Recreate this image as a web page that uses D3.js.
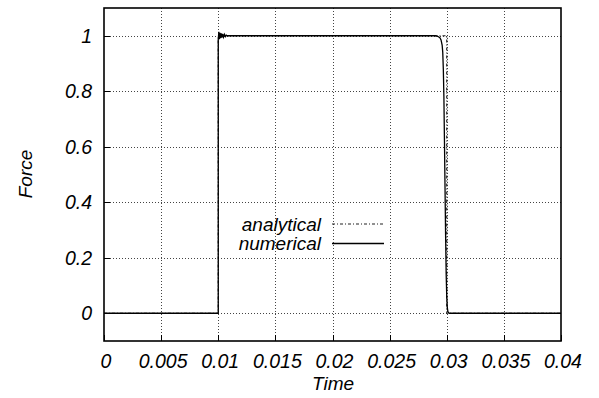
<!DOCTYPE html>
<html>
<head>
<meta charset="utf-8">
<script src="https://cdn.jsdelivr.net/npm/d3@7"></script>
<style>
  html, body { margin: 0; padding: 0; background: #fff; }
  svg { display: block; font-family: "Liberation Sans", Arial, sans-serif; font-style: italic; }
</style>
</head>
<body>
<svg id="chart" width="599" height="398"></svg>
<script>
// Tick values
const xTicks = [0, 0.005, 0.01, 0.015, 0.02, 0.025, 0.03, 0.035, 0.04];
const yTicks = [0, 0.2, 0.4, 0.6, 0.8, 1];

// Analytical force: rectangular pulse between 0.01 and 0.03
const analyticalT = [0, 0.01, 0.01, 0.03, 0.03, 0.04];
const analyticalF = [0, 0, 1, 1, 0, 0];

// Numerical force: small ringing at the rise, smooth decay at the fall
const numericalT = [0, 0.01, 0.01, 0.01005, 0.0101, 0.01015, 0.0102, 0.01026, 0.01032, 0.01039, 0.01046, 0.01054, 0.01062, 0.0107, 0.0108,
  0.029, 0.0292, 0.0294, 0.0295, 0.0296, 0.02965, 0.0297, 0.02975, 0.0298, 0.02985, 0.0299, 0.02995, 0.03, 0.03005, 0.0301, 0.0302, 0.04];
const numericalF = [0, 0, 0.985, 1.014, 0.988, 1.011, 0.991, 1.009, 0.993, 1.007, 0.995, 1.005, 0.997, 1.002, 1.0,
  1.0, 0.998, 0.993, 0.985, 0.965, 0.94, 0.88, 0.78, 0.62, 0.45, 0.28, 0.14, 0.06, 0.02, 0.006, 0, 0];

const seriesNames = ["analytical", "numerical"];
const xTitle = "Time";
const yTitle = "Force";

const svg = d3.select("#chart");
const plotL = 104, plotR = 561, plotT = 8, plotB = 341;

const x = d3.scaleLinear().domain([0, 0.04]).range([plotL, plotR]);
const y = d3.scaleLinear().domain([-0.1, 1.1]).range([plotB, plotT]);

const fmt = v => String(+v.toFixed(3));

// Dotted grid
const grid = svg.append("g").attr("stroke", "#444").attr("stroke-width", 1).attr("stroke-dasharray", "1,2");
grid.selectAll("line.vx").data(xTicks.slice(1, -1)).join("line")
  .attr("x1", d => Math.round(x(d)) + 0.5).attr("x2", d => Math.round(x(d)) + 0.5)
  .attr("y1", plotT).attr("y2", plotB);
grid.selectAll("line.hy").data(yTicks).join("line")
  .attr("y1", d => Math.round(y(d)) + 0.5).attr("y2", d => Math.round(y(d)) + 0.5)
  .attr("x1", plotL).attr("x2", plotR);

// Inward tick marks on the bottom and left axes
const ticks = svg.append("g").attr("stroke", "#000").attr("stroke-width", 1);
ticks.selectAll("line.tx").data(xTicks).join("line")
  .attr("x1", d => Math.round(x(d)) + 0.5).attr("x2", d => Math.round(x(d)) + 0.5)
  .attr("y1", plotB).attr("y2", plotB - 6);
ticks.selectAll("line.ty").data(yTicks).join("line")
  .attr("y1", d => Math.round(y(d)) + 0.5).attr("y2", d => Math.round(y(d)) + 0.5)
  .attr("x1", plotL).attr("x2", plotL + 6);

// Series lines
const line = d3.line().x(d => x(d[0])).y(d => y(d[1]));
const analytical = analyticalT.map((t, i) => [t, analyticalF[i]]);
const numerical = numericalT.map((t, i) => [t, numericalF[i]]);

svg.append("path").datum(analytical)
  .attr("d", line).attr("fill", "none")
  .attr("stroke", "#222").attr("stroke-width", 1.2).attr("stroke-dasharray", "3,2,1,2");
svg.append("path").datum(numerical)
  .attr("d", line).attr("fill", "none")
  .attr("stroke", "#000").attr("stroke-width", 1.3);

// Frame
svg.append("rect").attr("x", plotL).attr("y", plotT).attr("width", plotR - plotL).attr("height", plotB - plotT)
  .attr("fill", "none").attr("stroke", "#000").attr("stroke-width", 1.6);

// Tick labels
svg.append("g").selectAll("text").data(xTicks).join("text")
  .attr("x", d => x(d) + 2).attr("y", 368)
  .attr("text-anchor", "middle").attr("font-size", 19.5).text(fmt);
svg.append("g").selectAll("text").data(yTicks).join("text")
  .attr("x", 92).attr("y", d => y(d)).attr("dy", "0.36em")
  .attr("text-anchor", "end").attr("font-size", 19.5).text(fmt);

// Axis titles
svg.append("text").attr("x", 333).attr("y", 390).attr("text-anchor", "middle")
  .attr("font-size", 19).text(xTitle);
svg.append("text").attr("transform", "translate(32,174) rotate(-90)").attr("text-anchor", "middle")
  .attr("font-size", 19).text(yTitle);

// Legend
const legendY = [224, 243.5];
const legend = svg.append("g");
legend.selectAll("text").data(seriesNames).join("text")
  .attr("x", 321).attr("y", (d, i) => legendY[i]).attr("dy", "0.35em")
  .attr("text-anchor", "end").attr("font-size", 19).text(d => d);
legend.selectAll("line").data(seriesNames).join("line")
  .attr("x1", 332).attr("x2", 384)
  .attr("y1", (d, i) => legendY[i]).attr("y2", (d, i) => legendY[i])
  .attr("stroke", (d, i) => i === 0 ? "#222" : "#000")
  .attr("stroke-width", (d, i) => i === 0 ? 1.2 : 1.3)
  .attr("stroke-dasharray", (d, i) => i === 0 ? "3,2,1,2" : null);
</script>
</body>
</html>
